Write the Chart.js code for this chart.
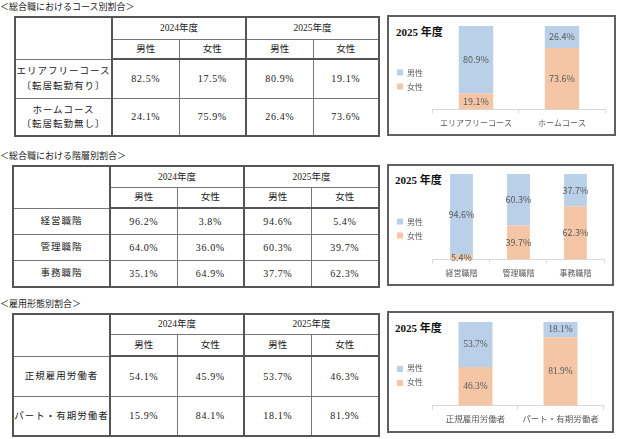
<!DOCTYPE html>
<html>
<head>
<meta charset="utf-8">
<script src="https://cdn.jsdelivr.net/npm/chart.js@4.4.1/dist/chart.umd.min.js"></script>
<style>
  html, body { margin: 0; padding: 0; background: #fff; }
  body { width: 620px; height: 439px; position: relative; overflow: hidden;
    font-family: "Liberation Serif", "Noto Sans CJK JP", serif; color: #222; }
  .sec { position: absolute; left: 0; font-size: 9px; white-space: nowrap; }
  table.t { position: absolute; border-collapse: collapse; table-layout: fixed;
    border: 2px solid #555; font-size: 9.5px; }
  table.t td { border: 1px solid #777; text-align: center; vertical-align: middle;
    padding: 0; line-height: 1.5; }
  table.t td.n { font-size: 10px; letter-spacing: 0.6px; }
  table.t td.c0 { border-right: 2px solid #555; letter-spacing: 1px; }
  table.t td.g1 { border-right: 2px solid #555; }
  table.t tr.h2 td { border-bottom: 2px solid #555; }
  .box { position: absolute; border: 2px solid #606060; box-sizing: border-box; background: #fff; }
  .box .cv { position: absolute; left: 0; top: 0; right: 0; bottom: 0; }
  .box .ttl { position: absolute; font-weight: bold; font-size: 11px; color: #111; white-space: nowrap;
    font-family: "Liberation Serif", "Noto Sans CJK JP", serif; }
</style>
</head>
<body>

<div class="sec" style="top:0px">＜総合職におけるコース別割合＞</div>
<table class="t" id="t1" style="left:14px; top:16px; width:366px;"></table>
<div class="box" style="left:387px; top:15px; width:229px; height:121px;">
  <div class="ttl" style="left:7px; top:6px;">2025 年度</div>
  <div class="cv"><canvas id="c1"></canvas></div>
</div>

<div class="sec" style="top:149px">＜総合職における階層別割合＞</div>
<table class="t" id="t2" style="left:12px; top:165px; width:368px;"></table>
<div class="box" style="left:387px; top:164px; width:227px; height:122px;">
  <div class="ttl" style="left:6px; top:5px;">2025 年度</div>
  <div class="cv"><canvas id="c2"></canvas></div>
</div>

<div class="sec" style="top:297px">＜雇用形態別割合＞</div>
<table class="t" id="t3" style="left:12px; top:313px; width:368px;"></table>
<div class="box" style="left:387px; top:311px; width:227px; height:122px;">
  <div class="ttl" style="left:6px; top:6px;">2025 年度</div>
  <div class="cv"><canvas id="c3"></canvas></div>
</div>

<script>
// ---- data
const years = ["2024年度", "2025年度"];
const sexes = ["男性", "女性"];

const courseCats = ["エリアフリーコース", "ホームコース"];
const courseSub = ["〔転居転勤有り〕", "〔転居転勤無し〕"];
const course2024Male = [82.5, 24.1];
const course2024Female = [17.5, 75.9];
const course2025Male = [80.9, 26.4];
const course2025Female = [19.1, 73.6];

const levelCats = ["経営職階", "管理職階", "事務職階"];
const level2024Male = [96.2, 64.0, 35.1];
const level2024Female = [3.8, 36.0, 64.9];
const level2025Male = [94.6, 60.3, 37.7];
const level2025Female = [5.4, 39.7, 62.3];

const empCats = ["正規雇用労働者", "パート・有期労働者"];
const emp2024Male = [54.1, 15.9];
const emp2024Female = [45.9, 84.1];
const emp2025Male = [53.7, 18.1];
const emp2025Female = [46.3, 81.9];

const BLUE = "#b9d0e8";
const ORANGE = "#f5c6a5";
const GRAY = "#595959";

// -------- tables
function pct(v) { return v.toFixed(1) + "%"; }

function buildTable(id, rows, cols, heights) {
  const t = document.getElementById(id);
  let h = '<colgroup><col style="width:97px"><col style="width:67px"><col style="width:67px"><col style="width:67px"><col></colgroup>';
  h += '<tr style="height:' + heights[0] + 'px"><td class="c0" rowspan="2"></td>' +
    '<td colspan="2" class="g1">' + years[0] + '</td><td colspan="2">' + years[1] + '</td></tr>';
  h += '<tr class="h2" style="height:' + heights[1] + 'px"><td>' + sexes[0] + '</td><td class="g1">' + sexes[1] +
    '</td><td>' + sexes[0] + '</td><td>' + sexes[1] + '</td></tr>';
  rows.forEach((r, i) => {
    h += '<tr style="height:' + heights[i + 2] + 'px"><td class="c0">' + r + '</td>' +
      '<td class="n">' + pct(cols[0][i]) + '</td><td class="n g1">' + pct(cols[1][i]) + '</td>' +
      '<td class="n">' + pct(cols[2][i]) + '</td><td class="n">' + pct(cols[3][i]) + '</td></tr>';
  });
  t.innerHTML = h;
}

buildTable("t1", courseCats.map((c, i) => c + "<br>" + courseSub[i]),
  [course2024Male, course2024Female, course2025Male, course2025Female], [22, 20, 39, 38]);
buildTable("t2", levelCats,
  [level2024Male, level2024Female, level2025Male, level2025Female], [21, 21, 26, 26, 27]);
buildTable("t3", empCats,
  [emp2024Male, emp2024Female, emp2025Male, emp2025Female], [20, 22, 40, 40]);

// -------- charts
const valueLabels = {
  id: "valueLabels",
  afterDatasetsDraw(chart, args, opts) {
    const ctx = chart.ctx;
    ctx.save();
    ctx.fillStyle = GRAY;
    ctx.font = opts.size + "px " + opts.family;
    ctx.textAlign = "center";
    ctx.textBaseline = "middle";
    chart.data.datasets.forEach((ds, i) => {
      chart.getDatasetMeta(i).data.forEach((bar, j) => {
        const p = bar.getProps(["x", "y", "base"], true);
        ctx.fillText(ds.data[j].toFixed(1) + "%", p.x, (p.y + p.base) / 2);
      });
    });
    ctx.restore();
  },
};

function makeChart(id, labels, male, female, family, valSize, tickSize, pad) {
  return new Chart(document.getElementById(id), {
    type: "bar",
    data: {
      labels: labels,
      datasets: [
        { label: "女性", data: female, backgroundColor: ORANGE },
        { label: "男性", data: male, backgroundColor: BLUE },
      ],
    },
    options: {
      responsive: true,
      maintainAspectRatio: false,
      animation: false,
      layout: { padding: pad },
      datasets: { bar: { barPercentage: 0.4, categoryPercentage: 1 } },
      scales: {
        x: {
          stacked: true,
          grid: { display: true, drawOnChartArea: false, drawTicks: true, tickLength: 4, color: "#d9d9d9" },
          border: { color: "#d9d9d9" },
          ticks: { color: GRAY, font: { size: tickSize, family: family }, padding: 5,
            maxRotation: 0, minRotation: 0, autoSkip: false },
        },
        y: { stacked: true, display: false, min: 0, max: 100 },
      },
      plugins: {
        legend: {
          position: "left",
          reverse: true,
          labels: { boxWidth: 6, boxHeight: 6, padding: 6, color: GRAY, font: { size: 8, family: family } },
        },
        tooltip: { enabled: false },
        valueLabels: { family: family, size: valSize },
      },
    },
    plugins: [valueLabels],
  });
}

const sans = '"Noto Sans CJK JP", "Noto Sans", sans-serif';
const serif = '"Liberation Serif", "Noto Sans CJK JP", serif';
makeChart("c1", courseCats, course2025Male, course2025Female, sans, 9, 8, { left: 2, right: 9, top: 9, bottom: 1 });
makeChart("c2", levelCats, level2025Male, level2025Female, sans, 9, 8, { left: 2, right: 8, top: 8, bottom: 1 });
makeChart("c3", empCats, emp2025Male, emp2025Female, serif, 9.5, 8.5, { left: 2, right: 9, top: 9, bottom: 1 });
</script>
</body>
</html>
